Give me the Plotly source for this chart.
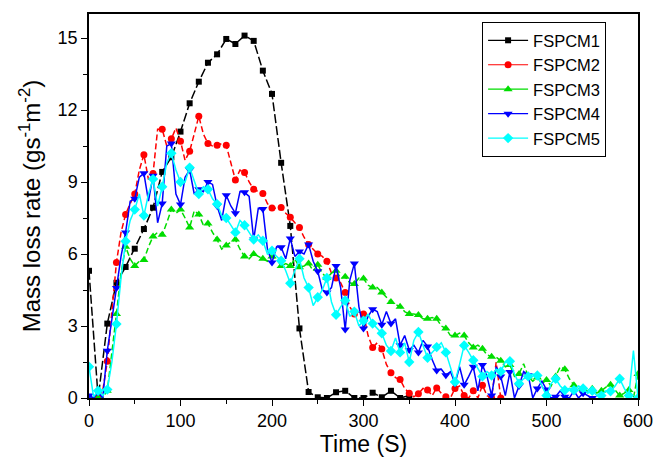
import plotly.graph_objects as go

# ---------------- data ----------------
# FSPCM1: sampled every 10 s (0..350 s)
t_m1 = list(range(0, 360, 10))
m1 = [5.3, 0.0, 3.1, 4.8, 5.46, 6.22, 7.04, 7.93, 9.42, 10.03,
      11.1, 12.28, 13.18, 13.97, 14.32, 14.96, 14.75, 15.1, 14.88, 13.64,
      12.67, 9.8, 7.17, 2.9, 0.25, 0.03, 0.0, 0.24, 0.3, 0.0,
      0.0, 0.22, 0.03, 0.3, 0.0, 0.1]

# FSPCM2..5: sampled every 5 s, symbols on every second sample
m2 = [0.0, 0.0, 0.05, 0.3, 1.53, 3.6, 5.65, 6.9, 7.65, 8.1,
      8.5, 9.5, 10.14, 9.1, 9.35, 11.2, 11.2, 10.5, 10.8, 11.25,
      10.7, 9.9, 10.28, 11.0, 11.74, 11.0, 10.6, 10.5, 10.53, 10.6,
      10.53, 9.8, 9.08, 9.5, 9.4, 9.0, 8.7, 8.6, 8.52, 8.1,
      7.92, 7.9, 7.94, 7.7, 7.53, 7.3, 7.1, 6.7, 6.4, 6.2,
      6.0, 5.9, 5.7, 5.2, 5.0, 4.8, 4.4, 3.8, 3.5, 3.6,
      3.5, 2.6, 2.1, 2.3, 2.04, 1.4, 1.05, 0.85, 0.77, 0.4,
      0.2, 0.05, 0.18, 0.4, 0.33, 0.1, 0.42, 0.2, 0.05, 0.0,
      0.4, 0.5, 0.1, 0.0, 0.3, 0.0, 0.53, 0.1, 0.0, 1.5,
      0.0]
m3 = [0.0, 0.0, 0.0, 0.0, 0.3, 1.8, 3.5, 5.2, 6.3, 5.8,
      5.5, 5.7, 5.75, 6.3, 6.73, 6.9, 6.8, 7.3, 7.85, 7.7,
      7.85, 7.5, 7.1, 7.8, 7.65, 7.2, 7.27, 6.9, 6.6, 6.2,
      6.35, 6.5, 6.6, 6.2, 5.9, 5.8, 6.0, 5.9, 5.8, 5.7,
      5.9, 5.8, 5.5, 5.6, 5.5, 5.8, 5.45, 5.5, 5.6, 5.3,
      5.55, 5.2, 5.0, 5.2, 5.3, 5.0, 5.05, 4.8, 4.75, 5.0,
      4.98, 4.7, 4.6, 4.6, 4.4, 4.2, 4.0, 3.9, 3.8, 3.6,
      3.5, 3.5, 3.46, 3.3, 3.3, 3.35, 3.3, 3.0, 2.9, 2.6,
      2.6, 2.7, 2.6, 2.3, 2.1, 2.2, 2.05, 1.8, 1.72, 1.7,
      1.55, 1.3, 1.38, 0.9, 1.0, 1.43, 0.9, 0.7, 0.85, 0.6,
      0.75, 0.5, 0.9, 1.3, 1.2, 0.8, 0.53, 0.4, 0.38, 0.3,
      0.39, 0.2, 0.3, 0.45, 0.55, 0.3, 0.1, 0.2, 0.33, 0.0,
      1.0]
m4 = [0.1, 0.0, 0.25, 0.0, 1.97, 3.2, 4.58, 5.9, 6.9, 8.2,
      8.3, 9.2, 9.36, 8.2, 9.26, 7.3, 8.1, 10.5, 10.6, 8.5,
      8.06, 9.2, 9.5, 8.5, 8.7, 8.6, 9.0, 8.9, 8.0, 7.4,
      8.45, 8.0, 7.7, 8.6, 8.57, 8.4, 6.6, 7.9, 7.88, 6.2,
      5.65, 6.3, 6.28, 5.8, 6.65, 5.9, 6.1, 6.0, 6.4, 5.7,
      5.28, 4.5, 4.4, 4.6, 5.5, 4.6, 2.85, 4.9, 5.6, 3.8,
      2.9, 3.4, 3.7, 3.6, 3.05, 3.6, 3.1, 3.3, 2.2, 2.6,
      2.0, 2.2, 1.9, 2.4, 2.15, 1.6, 1.15, 1.2, 0.95, 1.1,
      0.6, 1.3, 0.55, 0.9, 1.3, 0.3, 1.38, 0.9, 0.1, 1.3,
      0.9, 0.1, 1.08, 0.0, 0.5, 1.1, 0.95, 0.0, 0.4, 0.7,
      0.35, 0.0, 0.05, 0.3, 0.05, 0.0, 0.3, 0.0, 0.2, 0.1,
      0.0]
m5 = [1.3, 0.05, 0.3, 0.1, 0.35, 1.5, 3.08, 5.0, 6.53, 7.4,
      7.85, 8.5, 7.6, 8.5, 9.12, 8.0, 8.8, 9.8, 10.2, 9.5,
      9.0, 9.0, 9.6, 9.0, 8.5, 8.8, 8.7, 8.3, 8.08, 7.6,
      7.5, 7.2, 6.9, 7.4, 7.2, 6.9, 6.6, 6.8, 6.55, 6.0,
      6.14, 5.9, 5.72, 5.3, 4.78, 5.3, 5.8, 5.0, 4.6, 3.85,
      4.2, 4.5, 5.0, 4.0, 3.47, 3.8, 4.06, 3.4, 3.6, 3.0,
      3.22, 3.5, 3.1, 2.9, 2.7, 2.2, 1.96, 2.5, 1.9, 2.3,
      1.5, 2.4, 2.75, 2.2, 1.68, 1.9, 2.12, 2.3, 1.9, 1.3,
      0.67, 1.4, 2.19, 1.9, 1.57, 1.2, 0.9, 1.1, 0.94, 1.2,
      1.1, 1.5, 1.53, 1.0, 0.6, 0.8, 0.9, 1.0, 0.94, 0.5,
      0.1, 0.6, 0.8, 0.5, 0.32, 0.4, 0.32, 0.5, 0.4, 0.2,
      0.3, 0.1, 0.1, 0.3, 0.28, 0.5, 0.8, 0.4, 0.1, 1.98,
      0.0]

names = ["FSPCM1", "FSPCM2", "FSPCM3", "FSPCM4", "FSPCM5"]
colors = ["#000000", "#ff0000", "#00dd00", "#0000ff", "#00ffff"]
symbols = ["square", "circle", "triangle-up", "triangle-down", "diamond"]
msizes = [6, 7, 8, 8, 8]
dashes = ["9px,3px", "6px,3px", "6px,3px", "solid", "solid"]

x_ticks = [0, 100, 200, 300, 400, 500, 600]
y_ticks = [0, 3, 6, 9, 12, 15]

FONT = "Liberation Sans, Arial, sans-serif"

# ---------------- figure ----------------
fig = go.Figure()

series = [
    (t_m1, m1, 1),
    (list(range(0, 5 * len(m2), 5)), m2, 2),
    (list(range(0, 5 * len(m3), 5)), m3, 2),
    (list(range(0, 5 * len(m4), 5)), m4, 2),
    (list(range(0, 5 * len(m5), 5)), m5, 2),
]

for i, (tx, vy, step) in enumerate(series):
    fig.add_trace(go.Scatter(
        x=tx, y=vy, mode="lines", showlegend=False, legendgroup=names[i],
        line=dict(color=colors[i], width=1.5, dash=dashes[i]),
        hoverinfo="skip"))
    fig.add_trace(go.Scatter(
        x=tx[::step], y=vy[::step], mode="markers", showlegend=False,
        legendgroup=names[i],
        marker=dict(color=colors[i], symbol=symbols[i], size=msizes[i],
                    line=dict(width=0))))

# legend-only entries
for i in range(5):
    fig.add_trace(go.Scatter(
        x=[None], y=[None], mode="lines+markers", name=names[i],
        legendgroup=names[i],
        line=dict(color=colors[i], width=1.2),
        marker=dict(color=colors[i], symbol=symbols[i], size=msizes[i],
                    line=dict(width=0))))

axis_common = dict(
    showline=True, linecolor="black", linewidth=1.5, mirror=True,
    ticks="outside", ticklen=6, tickwidth=1.2, tickcolor="black",
    showgrid=False, zeroline=False, automargin=False,
    tickfont=dict(family=FONT, size=18, color="black"),
)

fig.update_xaxes(
    range=[0, 600], tickvals=x_ticks, ticktext=[str(v) for v in x_ticks],
    minor=dict(dtick=50, ticks="outside", ticklen=4, tickcolor="black", tickwidth=1.2),
    title=dict(text="Time (S)", font=dict(family=FONT, size=23, color="black"),
               standoff=2),
    **axis_common)
fig.update_yaxes(
    range=[0, 16], tickvals=y_ticks, ticktext=[str(v) for v in y_ticks],
    minor=dict(tick0=0, dtick=1.5, ticks="outside", ticklen=4, tickcolor="black", tickwidth=1.2),
    title=dict(text="Mass loss rate (gs<sup>-1</sup>m<sup>-2</sup>)",
               font=dict(family=FONT, size=24, color="black"),
               standoff=10),
    **axis_common)

fig.update_layout(
    width=654, height=457,
    margin=dict(l=89, r=16, t=14, b=59),
    paper_bgcolor="white", plot_bgcolor="white",
    legend=dict(x=0.716, y=0.979, xanchor="left", yanchor="top",
                bordercolor="black", borderwidth=1, bgcolor="white",
                font=dict(family=FONT, size=16.5, color="black"),
                tracegroupgap=0, itemwidth=40,
                entrywidth=124, entrywidthmode="pixels"),
    showlegend=True,
)

fig.write_html("out.html", config={"displayModeBar": False},
               post_script="document.body.style.margin='0px';document.body.style.overflow='hidden';")
